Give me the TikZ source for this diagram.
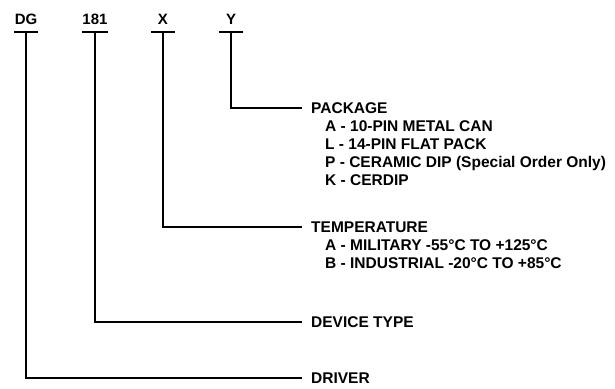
\documentclass[tikz,border=0pt]{standalone}
\usepackage{fontspec}
\setmainfont{Liberation Sans}
\usetikzlibrary{positioning}
\tikzset{
  hdr/.style={font=\fontsize{15}{17}\selectfont\bfseries, inner sep=0pt, minimum width=24pt, anchor=base},
  field/.style={font=\fontsize{15.5}{18}\selectfont\bfseries, inner sep=0pt, anchor=west},
  opts/.style={font=\fontsize{15.5}{18}\selectfont\bfseries, inner sep=0pt, align=left},
  bar/.style={line width=1.4pt},
  lead/.style={line width=1.3pt, shorten >=9pt}
}

\begin{document}
\begin{tikzpicture}[x=1pt, y=-1pt]
  \useasboundingbox (0,0) rectangle (615,388);
  % part number fields
  \node[hdr] (dg) at (26,24) {DG};
  \node[hdr] (num) at (95,24) {181};
  \node[hdr] (xx) at (163,24) {X};
  \node[hdr] (yy) at (231,24) {Y};
  \foreach \n in {dg,num,xx,yy}
    \draw[bar] ([yshift=-8pt]\n.base west) -- ([yshift=-8pt]\n.base east);
  % descriptions
  \node[field] (pack) at (311,108) {PACKAGE};
  \node[opts, below=7pt of pack.south west, anchor=north west, xshift=14pt] (packlist)
    {A - 10-PIN METAL CAN\\
     L - 14-PIN FLAT PACK\\
     P - CERAMIC DIP (Special Order Only)\\
     K - CERDIP};
  \node[field] (temp) at (311,227) {TEMPERATURE};
  \node[opts, below=7pt of temp.south west, anchor=north west, xshift=14pt] (templist)
    {A - MILITARY -55°C TO +125°C\\
     B - INDUSTRIAL -20°C TO +85°C};
  \node[field] (type) at (311,322) {DEVICE TYPE};
  \node[field] (drv) at (311,378) {DRIVER};
  % leaders
  \draw[lead] ([yshift=-8pt]yy.base) |- (pack.west);
  \draw[lead] ([yshift=-8pt]xx.base) |- (temp.west);
  \draw[lead] ([yshift=-8pt]num.base) |- (type.west);
  \draw[lead] ([yshift=-8pt]dg.base) |- (drv.west);
\end{tikzpicture}
\end{document}
